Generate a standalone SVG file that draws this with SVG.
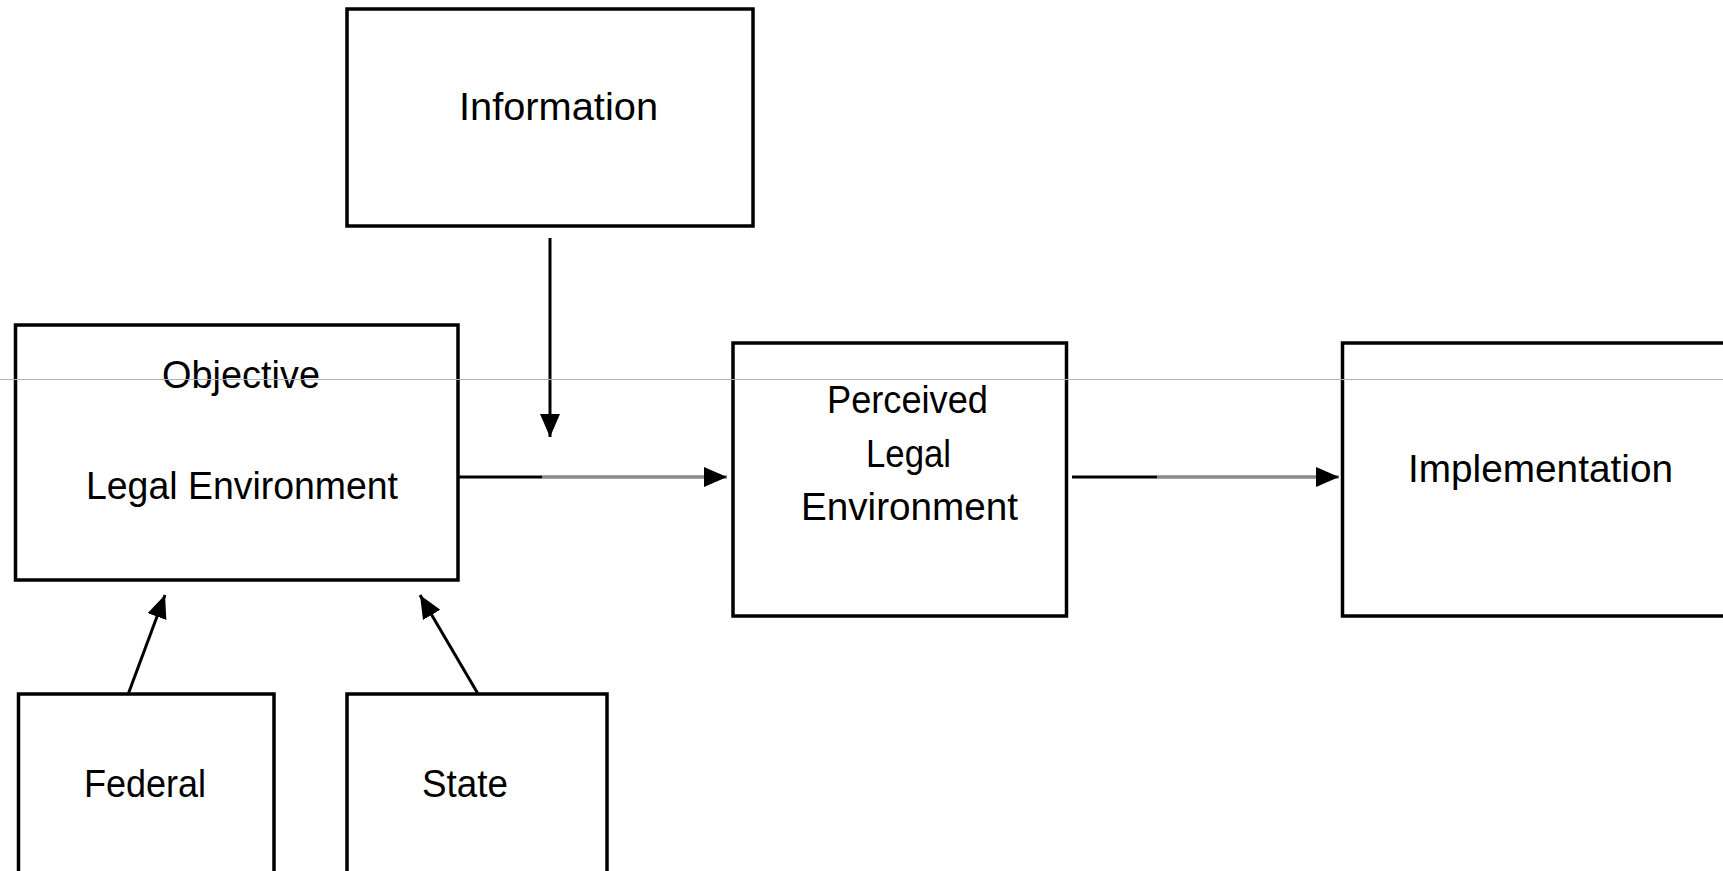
<svg xmlns="http://www.w3.org/2000/svg" width="1723" height="871" viewBox="0 0 1723 871">
  <style>
    .box { fill: #ffffff; stroke: #000000; stroke-width: 3.5; }
    .lbl { font-family: "Liberation Sans", Arial, sans-serif; font-size: 38px; fill: #000000; }
    .con { stroke: #000000; stroke-width: 3; fill: none; }
    .gray { stroke: #8a8a8a; stroke-width: 3.5; fill: none; }
  </style>
  <defs>
    <marker id="ah" markerUnits="userSpaceOnUse" markerWidth="26" markerHeight="22" refX="23" refY="10" orient="auto">
      <path d="M0,0 L23,10 L0,20 Z" fill="#000000"/>
    </marker>
  </defs>
  <rect width="1723" height="871" fill="#ffffff"/>

  <g id="information">
    <rect class="box" x="347" y="9" width="406" height="217"/>
    <text class="lbl" x="459" y="120" textLength="199" lengthAdjust="spacingAndGlyphs">Information</text>
  </g>

  <g id="objective">
    <rect class="box" x="15.5" y="325" width="442.5" height="255"/>
    <text class="lbl" x="162" y="388" textLength="158" lengthAdjust="spacingAndGlyphs">Objective</text>
    <text class="lbl" x="86" y="499" textLength="312" lengthAdjust="spacingAndGlyphs">Legal Environment</text>
  </g>

  <g id="perceived">
    <rect class="box" x="733" y="343" width="333.5" height="273"/>
    <text class="lbl" x="827" y="413" textLength="161" lengthAdjust="spacingAndGlyphs">Perceived</text>
    <text class="lbl" x="866" y="467" textLength="85" lengthAdjust="spacingAndGlyphs">Legal</text>
    <text class="lbl" x="801" y="520" textLength="217" lengthAdjust="spacingAndGlyphs">Environment</text>
  </g>

  <g id="implementation">
    <rect class="box" x="1342.5" y="343" width="400" height="273"/>
    <text class="lbl" x="1408" y="482" textLength="265" lengthAdjust="spacingAndGlyphs">Implementation</text>
  </g>

  <g id="federal">
    <rect class="box" x="18.5" y="694" width="255.5" height="200"/>
    <text class="lbl" x="84" y="797" textLength="122" lengthAdjust="spacingAndGlyphs">Federal</text>
  </g>

  <g id="state">
    <rect class="box" x="347" y="694" width="260" height="200"/>
    <text class="lbl" x="422" y="797" textLength="86" lengthAdjust="spacingAndGlyphs">State</text>
  </g>

  <g id="connectors">
    <line class="con" x1="550" y1="238" x2="550" y2="437" marker-end="url(#ah)"/>
    <line class="con" x1="459" y1="477" x2="542" y2="477"/>
    <line class="gray" x1="542" y1="477" x2="727" y2="477" marker-end="url(#ah)"/>
    <line class="con" x1="1072" y1="477" x2="1157" y2="477"/>
    <line class="gray" x1="1157" y1="477" x2="1339" y2="477" marker-end="url(#ah)"/>
    <line class="con" x1="128.6" y1="693" x2="165" y2="595" marker-end="url(#ah)"/>
    <line class="con" x1="477.5" y1="693" x2="420" y2="595" marker-end="url(#ah)"/>
  </g>

  <line x1="0" y1="379.5" x2="1723" y2="379.5" stroke="#aab1c8" stroke-width="1"/>
</svg>
